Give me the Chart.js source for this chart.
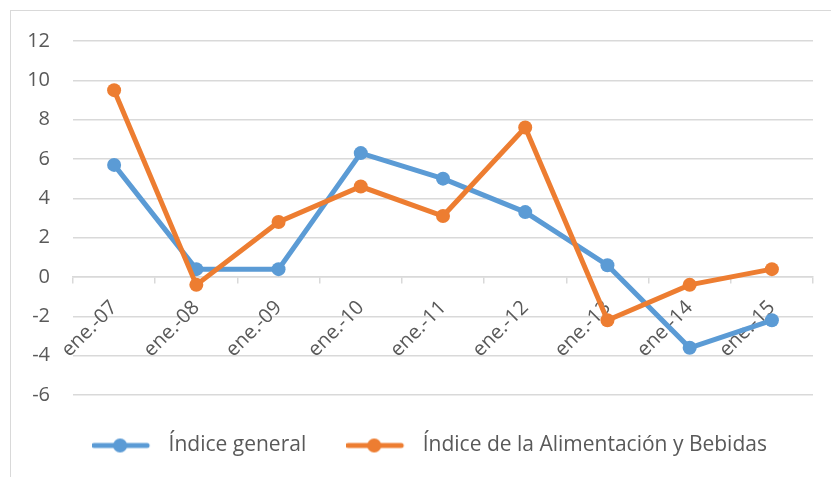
<!DOCTYPE html>
<html>
<head>
<meta charset="utf-8">
<script src="https://cdn.jsdelivr.net/npm/chart.js@4"></script>
<style>
  html, body { margin: 0; padding: 0; background: #fff; }
  #wrap { position: relative; width: 831px; height: 477px; overflow: hidden; }
  #frame { position: absolute; left: 10px; top: 10px; width: 840px; height: 490px; border: 1.5px solid #d9d9d9; box-sizing: border-box; }
  canvas { position: absolute; left: 0; top: 0; }
</style>
</head>
<body>
<div id="wrap">
  <div id="frame"></div>
  <canvas id="chart" width="831" height="477"></canvas>
</div>
<script>
const categories = ['ene.-07', 'ene.-08', 'ene.-09', 'ene.-10', 'ene.-11', 'ene.-12', 'ene.-13', 'ene.-14', 'ene.-15'];
const indiceGeneral = [5.7, 0.4, 0.4, 6.3, 5.0, 3.3, 0.6, -3.6, -2.2];
const indiceAlimentacion = [9.5, -0.4, 2.8, 4.6, 3.1, 7.6, -2.2, -0.4, 0.4];
const seriesNames = ['Índice general', 'Índice de la Alimentación y Bebidas'];

const BLUE = '#5B9BD5';
const ORANGE = '#ED7D31';
const GRID = '#d9d9d9';
const TEXT = '#595959';

// little line + dot marker for the legend, like the Excel one
function legendIcon(color) {
    const c = document.createElement('canvas');
    c.width = 66;
    c.height = 16;
    const g = c.getContext('2d');
    g.strokeStyle = color;
    g.lineWidth = 5;
    g.lineCap = 'round';
    g.beginPath();
    g.moveTo(2, 8);
    g.lineTo(55, 8);
    g.stroke();
    g.fillStyle = color;
    g.beginPath();
    g.arc(28, 8, 7, 0, Math.PI * 2);
    g.fill();
    return c;
}
const icons = [legendIcon(BLUE), legendIcon(ORANGE)];

// the legend in the original sits a bit right of the canvas centre
const legendShift = {
    id: 'legendShift',
    beforeDraw(chart) {
        const lg = chart.legend;
        if (lg && !lg._shifted) {
            lg.left += 11;
            lg.right += 11;
            lg._shifted = true;
        }
    },
};

new Chart(document.getElementById('chart'), {
    type: 'line',
    data: {
        labels: categories,
        datasets: [
            {
                label: seriesNames[0],
                data: indiceGeneral,
                borderColor: BLUE,
                backgroundColor: BLUE,
                borderWidth: 5,
                pointRadius: 7,
                pointBorderWidth: 0,
                fill: false,
                order: 1,
            },
            {
                label: seriesNames[1],
                data: indiceAlimentacion,
                borderColor: ORANGE,
                backgroundColor: ORANGE,
                borderWidth: 5,
                pointRadius: 7,
                pointBorderWidth: 0,
                fill: false,
                order: 0,
            },
        ],
    },
    options: {
        responsive: false,
        animation: false,
        layout: { padding: { top: 41, left: 24, right: 18, bottom: 11 } },
        scales: {
            x: {
                position: { y: 0 },
                offset: true,
                grid: {
                    drawOnChartArea: false,
                    drawTicks: true,
                    tickLength: 6,
                    offset: true,
                    color: GRID,
                    lineWidth: 1.5,
                },
                border: { display: true, color: GRID, width: 1.5 },
                ticks: {
                    minRotation: 45,
                    maxRotation: 45,
                    autoSkip: false,
                    padding: 13,
                    color: TEXT,
                    font: { family: 'Open Sans', size: 20 },
                },
            },
            y: {
                min: -6,
                max: 12,
                grid: { color: GRID, lineWidth: 1.5, drawTicks: false },
                border: { display: false },
                ticks: {
                    stepSize: 2,
                    padding: 23,
                    color: TEXT,
                    font: { family: 'Open Sans', size: 20 },
                },
                afterFit: (scale) => { scale.width = 49; },
            },
        },
        plugins: {
            legend: {
                position: 'bottom',
                labels: {
                    usePointStyle: true,
                    pointStyleWidth: 66,
                    padding: 40,
                    color: TEXT,
                    font: { family: 'Open Sans', size: 21 },
                    generateLabels: (chart) => {
                        const items = Chart.defaults.plugins.legend.labels.generateLabels(chart);
                        items.sort((a, b) => a.datasetIndex - b.datasetIndex);
                        items.forEach((item) => { item.pointStyle = icons[item.datasetIndex]; });
                        return items;
                    },
                },
            },
            tooltip: { enabled: false },
        },
    },
    plugins: [legendShift],
});
</script>
</body>
</html>
